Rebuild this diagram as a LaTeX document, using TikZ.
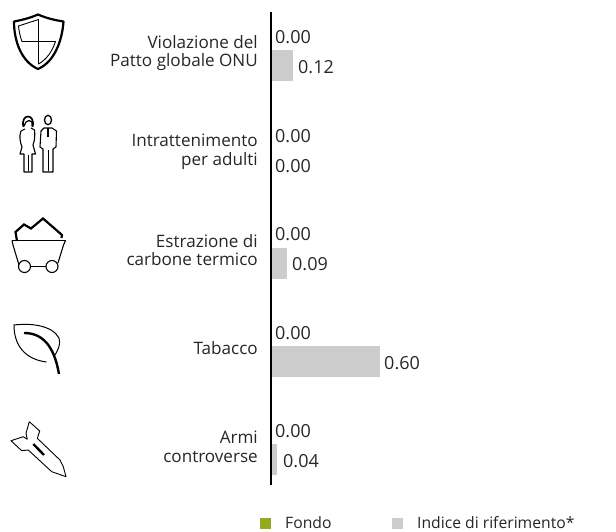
\documentclass[tikz,border=0pt]{standalone}
\usepackage{fontspec}
\setmainfont{Open Sans}
\tikzset{
  lab/.style={align=right,anchor=east,font=\fontsize{17.1}{18.7}\selectfont,text=black!85,inner sep=0pt},
  val/.style={anchor=west,font=\fontsize{18}{20}\selectfont,text=black!85,inner sep=0pt},
  leg/.style={anchor=west,font=\fontsize{15.7}{18}\selectfont,text=black!85,inner sep=0pt},
  bar/.style={fill=black!20,draw=none},
  ico/.style={draw=black,line width=1.1pt,line join=round,fill=none},
  icob/.style={draw=black,line width=2.2pt,line join=round,fill=none},
}
\begin{document}
\begin{tikzpicture}[x=1pt,y=-1pt]
\useasboundingbox (0,0) rectangle (616,532);
% bars
\fill[bar] (271,50) rectangle (293,81);
\fill[bar] (271,248) rectangle (287,279);
\fill[bar] (271,346) rectangle (380,377);
\fill[bar] (271,444) rectangle (277,475);
% axis
\draw[line width=2pt] (271,12) -- (271,485);
% labels
\node[lab] (l1) at (258,53) {Violazione del\\Patto globale ONU};
\node[lab] (l2) at (258,152) {Intrattenimento\\per adulti};
\node[lab] (l3) at (258,250) {Estrazione di\\carbone termico};
\node[lab] (l4) at (258,348) {Tabacco};
\node[lab] (l5) at (258,447) {Armi\\controverse};
% values
\node[val] (v1a) at (275,37) {0.00};
\node[val] (v1b) at (298,67) {0.12};
\node[val] (v2a) at (275,136) {0.00};
\node[val] (v2b) at (275,166) {0.00};
\node[val] (v3a) at (275,234) {0.00};
\node[val] (v3b) at (292,264) {0.09};
\node[val] (v4a) at (275,333) {0.00};
\node[val] (v4b) at (384,363) {0.60};
\node[val] (v5a) at (275,431) {0.00};
\node[val] (v5b) at (283,461) {0.04};
% legend
\fill[fill={rgb,255:red,148;green,168;blue,32}] (260,518) rectangle (271,529);
\node[leg] (lg1) at (285,522.5) {Fondo};
\fill[bar] (392,518) rectangle (403,529);
\node[leg] (lg2) at (417,522.5) {Indice di riferimento*};
% shield
\draw[icob] (38,14.5) .. controls (30,18) and (22,20) .. (14,21.5) .. controls (14,42) and (22,62) .. (38,69) .. controls (54,62) and (62,42) .. (63.5,21.5) .. controls (54,20) and (46,18) .. (38,14.5) -- cycle;
\draw[line width=0.9pt,line join=round] (18.5,26) -- (38.5,19.5) -- (38.5,64) .. controls (46,60) and (52,52) .. (55.5,41.5) -- (22,41.5) .. controls (20,36) and (19,31) .. (18.5,26) -- cycle;
% woman
\draw[line width=1.7pt] (23.5,127) .. controls (20,113) and (36,113) .. (32.5,127);
\draw[line width=1.2pt] (24,126) -- (26,122) .. controls (28,120) and (30,120) .. (32,122) -- (32,126);
\draw[ico] (25,129) -- (21,131) .. controls (19,136) and (20,142) .. (22,147) -- (20,154) -- (24,154) -- (24,172) -- (32,172) -- (32,154) -- (35.5,154) -- (33,145) .. controls (35,140) and (35,134) .. (34.5,130) -- (31,128);
\draw[line width=.8pt] (28,155) -- (28,171);
% man
\draw[ico,line width=1.3pt] (48,120) circle[x radius=3.5,y radius=4.7];
\draw[ico] (44,128) -- (41,131) -- (40,147) -- (43,149) -- (43,172) -- (53,172) -- (53,149) -- (56,147) -- (56.5,131) -- (52,128) -- cycle;
\draw[line width=2pt] (48,128) -- (48,137);
\draw[line width=.8pt] (48,150) -- (48,171);
% cart
\draw[line width=2.2pt,line join=miter] (17,241) -- (15.5,232) -- (24,224.5) -- (31,228.5) -- (43,218.5) -- (62,235) -- (61.5,238);
\draw[line width=1.6pt,line join=round,rounded corners=1.5pt] (12,240.5) -- (65.5,240.5);
\draw[line width=1.1pt,rounded corners=1.5pt] (12,240.5) -- (13,245) -- (19,265);
\draw[line width=1.1pt,rounded corners=1.5pt] (65.5,240.5) -- (63.5,245) -- (58,263);
\draw[ico] (24.5,266.5) circle[radius=6];
\draw[ico] (52,266.5) circle[radius=6];
\draw[line width=1.2pt] (30.5,266.5) -- (46,266.5);
% leaf
\draw[line width=1pt] (46.5,362) .. controls (30,360) and (14,350) .. (14,325) .. controls (30,323) and (52,325) .. (59,338) .. controls (61,344) and (58,350) .. (55,355);
\draw[line width=2.4pt] (24,333) .. controls (42,333) and (54,345) .. (59,374);
% bomb
\draw[line width=.9pt,line join=round] (29.3,421.7) -- (39.7,431) -- (37.3,438.3) -- (60,460) -- (63.3,466.7) -- (66,476.7) -- (51.7,471.7) -- (28.3,450) -- (21.7,450.7) -- (11,440.7) -- (23.3,436.7) -- (27.3,439.3) -- (26,433.3) -- cycle;
\draw[line width=2.4pt] (33.3,444) -- (44,455);
\end{tikzpicture}
\end{document}
